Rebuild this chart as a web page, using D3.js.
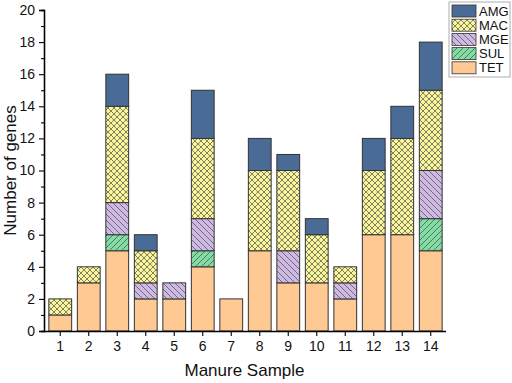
<!DOCTYPE html>
<html>
<head>
<meta charset="utf-8">
<script src="https://cdn.jsdelivr.net/npm/d3@7"></script>
<style>
body { margin: 0; background: #fff; }
text { font-family: Arial, "Liberation Sans", sans-serif; }
</style>
</head>
<body>
<div id="chart"></div>
<script>
// data
const samples = ["1","2","3","4","5","6","7","8","9","10","11","12","13","14"];
const TET = [1, 3, 5, 2, 2, 4, 2, 5, 3, 3, 2, 6, 6, 5];
const SUL = [0, 0, 1, 0, 0, 1, 0, 0, 0, 0, 0, 0, 0, 2];
const MGE = [0, 0, 2, 1, 1, 2, 0, 0, 2, 0, 1, 0, 0, 3];
const MAC = [1, 1, 6, 2, 0, 5, 0, 5, 5, 3, 1, 4, 6, 5];
const AMG = [0, 0, 2, 1, 0, 3, 0, 2, 1, 1, 0, 2, 2, 3];
const seriesNames = ["TET", "SUL", "MGE", "MAC", "AMG"];
const yTicks = [0, 2, 4, 6, 8, 10, 12, 14, 16, 18, 20];

const width = 512, height = 383;
const margin = { top: 10, right: 67, bottom: 52, left: 44 };

const svg = d3.select("#chart").append("svg")
    .attr("width", width)
    .attr("height", height);

const defs = svg.append("defs");

// hatch patterns
function hatch(id, fill, lines) {
    const p = defs.append("pattern")
        .attr("id", id)
        .attr("patternUnits", "userSpaceOnUse")
        .attr("width", 6)
        .attr("height", 6);
    p.append("rect").attr("width", 6).attr("height", 6).attr("fill", fill);
    lines.forEach(d => {
        p.append("path").attr("d", d)
            .attr("stroke", "#333")
            .attr("stroke-width", 0.6)
            .attr("fill", "none");
    });
}
hatch("pMAC", "#f8f59c", ["M0,0L6,6M-1,5L1,7M5,-1L7,1", "M0,6L6,0M-1,1L1,-1M5,7L7,5"]);
hatch("pMGE", "#cdb9e2", ["M0,0L6,6M-1,5L1,7M5,-1L7,1"]);
hatch("pSUL", "#82dca4", ["M0,6L6,0M-1,1L1,-1M5,7L7,5"]);

const fills = {
    TET: "#ffc994",
    SUL: "url(#pSUL)",
    MGE: "url(#pMGE)",
    MAC: "url(#pMAC)",
    AMG: "#4b6b97"
};

const table = samples.map((s, i) => ({
    sample: s, TET: TET[i], SUL: SUL[i], MGE: MGE[i], MAC: MAC[i], AMG: AMG[i]
}));
const stacked = d3.stack().keys(seriesNames)(table);

const x = d3.scaleBand()
    .domain(samples)
    .range([margin.left + 2, width - margin.right])
    .paddingInner(0.2)
    .paddingOuter(0.1);

const y = d3.scaleLinear()
    .domain([0, 20])
    .range([height - margin.bottom, margin.top]);

// bars
stacked.forEach(layer => {
    svg.append("g")
        .selectAll("rect")
        .data(layer.filter(d => d[1] - d[0] > 0))
        .join("rect")
        .attr("x", d => x(d.data.sample))
        .attr("y", d => y(d[1]))
        .attr("width", x.bandwidth())
        .attr("height", d => y(d[0]) - y(d[1]))
        .attr("fill", fills[layer.key])
        .attr("stroke", "#333")
        .attr("stroke-width", 1);
});

// axes
const yAxis = svg.append("g")
    .attr("transform", `translate(${margin.left},0)`)
    .call(d3.axisLeft(y).tickValues(yTicks).tickSize(5).tickPadding(4));
yAxis.append("g")
    .call(d3.axisLeft(y).tickValues(d3.range(1, 20, 2)).tickSize(3).tickFormat(""));
yAxis.selectAll(".domain").attr("stroke-width", 1.3);
yAxis.selectAll("line").attr("stroke-width", 1.1);
yAxis.selectAll("text").style("font-size", "14px").attr("fill", "#111");

const xAxis = svg.append("g")
    .attr("transform", `translate(0,${height - margin.bottom})`)
    .call(d3.axisBottom(x).tickSize(5).tickPadding(5).tickSizeOuter(0));
xAxis.select(".domain")
    .attr("d", `M${margin.left},0.5H${x.range()[1] + 1}`)
    .attr("stroke-width", 1.3);
xAxis.selectAll("line").attr("stroke-width", 1.1);
xAxis.selectAll("text").style("font-size", "14px").attr("fill", "#111");

// titles
svg.append("text")
    .attr("x", (margin.left + x.range()[1]) / 2)
    .attr("y", height - 7)
    .attr("text-anchor", "middle")
    .style("font-size", "17px")
    .attr("fill", "#111")
    .text("Manure Sample");

svg.append("text")
    .attr("transform", "rotate(-90)")
    .attr("x", -(margin.top + height - margin.bottom) / 2)
    .attr("y", 16)
    .attr("text-anchor", "middle")
    .style("font-size", "17px")
    .attr("fill", "#111")
    .text("Number of genes");

// legend
const legend = svg.append("g").attr("transform", "translate(449,2)");
legend.append("rect")
    .attr("width", 61)
    .attr("height", 75)
    .attr("fill", "#fff")
    .attr("stroke", "#999")
    .attr("stroke-width", 0.8);
const legendOrder = ["AMG", "MAC", "MGE", "SUL", "TET"];
legendOrder.forEach((k, i) => {
    legend.append("rect")
        .attr("x", 3)
        .attr("y", 3 + i * 14.2)
        .attr("width", 24)
        .attr("height", 12)
        .attr("fill", fills[k])
        .attr("stroke", "#333")
        .attr("stroke-width", 0.8);
    legend.append("text")
        .attr("x", 30)
        .attr("y", 9 + i * 14.2)
        .attr("dy", "0.35em")
        .style("font-size", "13px")
        .attr("fill", "#111")
        .text(k);
});
</script>
</body>
</html>
